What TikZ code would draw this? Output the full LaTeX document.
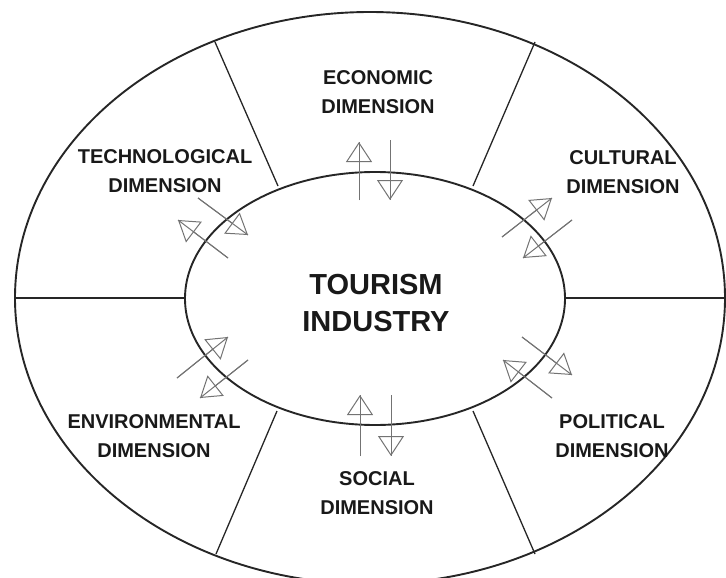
\documentclass[tikz,border=0pt]{standalone}
\usepackage{fontspec}
\setmainfont{Liberation Sans}
\usetikzlibrary{arrows.meta}

\begin{document}
\begin{tikzpicture}[
x=1pt,y=-1pt,
ring/.style={draw=black!85,line width=1.9pt},
divider/.style={draw=black!85,line width=1.3pt},
dimlabel/.style={
font=\bfseries\fontsize{20}{29}\selectfont,
align=center,
text=black!90
},
flow/.style={
draw=black!55,line width=1pt,
-{Triangle[open,length=20pt,width=26pt,line width=1pt]},
postaction={draw,-}
}
]

\useasboundingbox (0,0) rectangle (726,578);

% rings
\draw[ring] (370,298) ellipse [x radius=355,y radius=286];
\draw[ring] (375,298.5) ellipse [x radius=190,y radius=126.5];

% dividers
\draw[divider] (215,42) -- (278,186);
\draw[divider] (535,42) -- (473,186);
\draw[divider] (15,298) -- (185,298);
\draw[divider] (565,298) -- (726,298);
\draw[divider] (277,411) -- (216,554);
\draw[divider] (473,411) -- (535,554);

% labels
\node[dimlabel,font=\bfseries\fontsize{29}{37}\selectfont] (hub) at (376,303) {TOURISM\\INDUSTRY};
\node[dimlabel] (econ) at (378,92) {ECONOMIC\\DIMENSION};
\node[dimlabel] (tech) at (165,171) {TECHNOLOGICAL\\DIMENSION};
\node[dimlabel] (cult) at (623,172) {CULTURAL\\DIMENSION};
\node[dimlabel] (envi) at (154,436) {ENVIRONMENTAL\\DIMENSION};
\node[dimlabel] (poli) at (612,436) {POLITICAL\\DIMENSION};
\node[dimlabel] (soci) at (377,493) {SOCIAL\\DIMENSION};

% arrow ends
\coordinate (econ out a) at (359,200);
\coordinate (econ out b) at (359,142);
\coordinate (econ in a) at (390,140);
\coordinate (econ in b) at (390,200);

\coordinate (soci out a) at (360,456);
\coordinate (soci out b) at (360,395);
\coordinate (soci in a) at (391,395);
\coordinate (soci in b) at (391,456);

\coordinate (tech in a) at (198,198);
\coordinate (tech in b) at (248,235);
\coordinate (tech out a) at (228,258);
\coordinate (tech out b) at (178,220);

\coordinate (cult out a) at (502,237);
\coordinate (cult out b) at (552,198);
\coordinate (cult in a) at (572,220);
\coordinate (cult in b) at (523,258);

\coordinate (envi out a) at (177,378);
\coordinate (envi out b) at (228,337);
\coordinate (envi in a) at (248,360);
\coordinate (envi in b) at (200,398);

\coordinate (poli in a) at (522,337);
\coordinate (poli in b) at (572,375);
\coordinate (poli out a) at (552,398);
\coordinate (poli out b) at (503,360);

% flows
\draw[flow] (econ out a) -- (econ out b);
\draw[flow] (econ in a) -- (econ in b);
\draw[flow] (soci out a) -- (soci out b);
\draw[flow] (soci in a) -- (soci in b);
\draw[flow] (tech in a) -- (tech in b);
\draw[flow] (tech out a) -- (tech out b);
\draw[flow] (cult out a) -- (cult out b);
\draw[flow] (cult in a) -- (cult in b);
\draw[flow] (envi out a) -- (envi out b);
\draw[flow] (envi in a) -- (envi in b);
\draw[flow] (poli in a) -- (poli in b);
\draw[flow] (poli out a) -- (poli out b);

\end{tikzpicture}
\end{document}
